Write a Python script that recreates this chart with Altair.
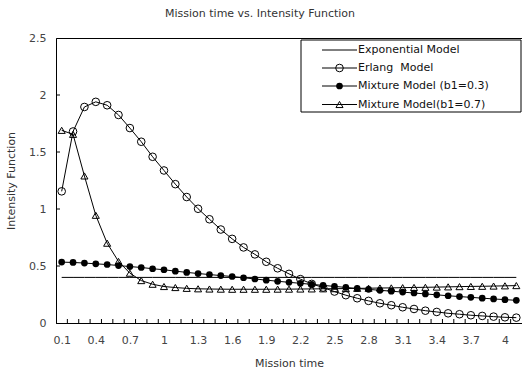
import altair as alt
import pandas as pd

# ---- data ----
mission_time = [0.1, 0.2, 0.3, 0.4, 0.5, 0.6, 0.7, 0.8, 0.9, 1.0,
                1.1, 1.2, 1.3, 1.4, 1.5, 1.6, 1.7, 1.8, 1.9, 2.0,
                2.1, 2.2, 2.3, 2.4, 2.5, 2.6, 2.7, 2.8, 2.9, 3.0,
                3.1, 3.2, 3.3, 3.4, 3.5, 3.6, 3.7, 3.8, 3.9, 4.0, 4.1]

exponential = [0.4, 0.4, 0.4, 0.4, 0.4, 0.4, 0.4, 0.4, 0.4, 0.4,
               0.4, 0.4, 0.4, 0.4, 0.4, 0.4, 0.4, 0.4, 0.4, 0.4,
               0.4, 0.4, 0.4, 0.4, 0.4, 0.4, 0.4, 0.4, 0.4, 0.4,
               0.4, 0.4, 0.4, 0.4, 0.4, 0.4, 0.4, 0.4, 0.4, 0.4, 0.4]

erlang = [1.155, 1.68, 1.895, 1.94, 1.91, 1.825, 1.71, 1.59, 1.458, 1.338,
          1.218, 1.105, 1.002, 0.91, 0.82, 0.738, 0.663, 0.602, 0.537, 0.48,
          0.431, 0.385, 0.343, 0.311, 0.276, 0.244, 0.217, 0.194, 0.173, 0.156,
          0.138, 0.123, 0.108, 0.097, 0.085, 0.077, 0.068, 0.062, 0.056, 0.05, 0.047]

mixture_03 = [0.534, 0.531, 0.526, 0.519, 0.513, 0.504, 0.495, 0.487, 0.476, 0.467,
              0.455, 0.444, 0.434, 0.425, 0.416, 0.408, 0.397, 0.386, 0.376, 0.366,
              0.357, 0.348, 0.339, 0.330, 0.321, 0.312, 0.303, 0.295, 0.287, 0.279,
              0.271, 0.263, 0.255, 0.247, 0.239, 0.232, 0.225, 0.218, 0.211, 0.205, 0.199]

mixture_07 = [1.69, 1.655, 1.29, 0.945, 0.70, 0.54, 0.437, 0.372, 0.34, 0.32,
              0.311, 0.304, 0.300, 0.298, 0.297, 0.296, 0.296, 0.296, 0.296, 0.297,
              0.297, 0.298, 0.299, 0.300, 0.301, 0.302, 0.304, 0.305, 0.307, 0.308,
              0.310, 0.312, 0.313, 0.315, 0.317, 0.319, 0.321, 0.322, 0.324, 0.326, 0.328]

series_names = ["Exponential Model", "\u00a0Erlang\u00a0\u00a0Model",
                "Mixture Model (b1=0.3)", "Mixture Model(b1=0.7)"]

x_tick_labels = [0.1, 0.4, 0.7, 1.0, 1.3, 1.6, 1.9, 2.2, 2.5, 2.8, 3.1, 3.4, 3.7, 4.0]
y_tick_labels = [0, 0.5, 1.0, 1.5, 2.0, 2.5]

FONT = "DejaVu Sans"
W, H = 466, 285

rows = []
for key, vals in [("exp", exponential), ("erl", erlang), ("m3", mixture_03), ("m7", mixture_07)]:
    for xv, yv in zip(mission_time, vals):
        rows.append({"s": key, "x": xv, "y": yv})
df = pd.DataFrame(rows)

xscale = alt.Scale(domain=[0.05, 4.15], nice=False, zero=False)
yscale = alt.Scale(domain=[0, 2.5], nice=False)

xaxis = alt.Axis(values=x_tick_labels, format=".1~f", ticks=False, tickSize=0,
                 labelPadding=11, title="Mission time", titlePadding=12,
                 grid=False, domainColor="black", labelFlush=False)
yaxis = alt.Axis(values=y_tick_labels, format=".1~f", ticks=False, tickSize=0,
                 labelPadding=10, title="Intensity Function", titlePadding=12,
                 grid=False, domainColor="black")

X = alt.X("x:Q", scale=xscale, axis=xaxis)
Y = alt.Y("y:Q", scale=yscale, axis=yaxis)

base = alt.Chart(df)


def series_line(key):
    return base.transform_filter(alt.datum.s == key).mark_line(
        color="black", strokeWidth=1).encode(x=X, y=Y)


def series_points(key, shape, filled, size):
    return base.transform_filter(alt.datum.s == key).mark_point(
        shape=shape, filled=filled, color="black", strokeWidth=1, size=size,
        opacity=1).encode(x=X, y=Y)


MK_ERL = ("circle", False, 58)
MK_M3 = ("circle", True, 45)
MK_M7 = ("triangle-up", False, 50)

layers = [
    series_line("exp"),
    series_line("erl"),
    series_points("erl", *MK_ERL),
    series_line("m3"),
    series_points("m3", *MK_M3),
    series_line("m7"),
    series_points("m7", *MK_M7),
]

# inward tick marks at category boundaries (x) and at label values (y)
bounds = [(a + b) / 2 for a, b in zip(mission_time[:-1], mission_time[1:])]
tick_df = pd.DataFrame({"x": bounds})
layers.append(alt.Chart(tick_df).mark_rule(color="black", strokeWidth=1).encode(
    x=X, y=alt.value(H), y2=alt.value(H - 4)))
ytick_df = pd.DataFrame({"y": y_tick_labels[1:-1]})
layers.append(alt.Chart(ytick_df).mark_rule(color="black", strokeWidth=1).encode(
    y=Y, x=alt.value(0), x2=alt.value(4)))

# legend box
one = pd.DataFrame({"a": [0]})
LX0, LX1, LY0, LY1 = 245, 465, 2, 74
layers.append(alt.Chart(one).mark_rect(fill="white", stroke="black", strokeWidth=1).encode(
    x=alt.value(LX0), x2=alt.value(LX1), y=alt.value(LY0), y2=alt.value(LY1)))

legend_rows = [12, 30, 48, 66.5]
legend_marker = [None, MK_ERL, MK_M3, MK_M7]
for name, ly, mk in zip(series_names, legend_rows, legend_marker):
    layers.append(alt.Chart(one).mark_rule(color="black", strokeWidth=1).encode(
        x=alt.value(266), x2=alt.value(301), y=alt.value(ly)))
    if mk is not None:
        layers.append(alt.Chart(one).mark_point(
            shape=mk[0], filled=mk[1], color="black", strokeWidth=1, size=mk[2], opacity=1).encode(
            x=alt.value(283.5), y=alt.value(ly)))
    layers.append(alt.Chart(one).mark_text(
        align="left", baseline="middle", font=FONT, fontSize=11, color="#111").encode(
        x=alt.value(302), y=alt.value(ly), text=alt.value(name)))

chart = alt.layer(*layers).properties(
    width=W, height=H,
    title=alt.TitleParams("Mission time vs. Intensity Function", font=FONT, fontSize=11,
                          fontWeight="normal", color="#333", anchor="middle",
                          offset=13, dx=-29),
    autosize=alt.AutoSizeParams(type="none"),
    padding={"left": 56, "top": 38, "right": 0, "bottom": 48},
).configure_view(
    stroke="black", strokeWidth=1
).configure_axis(
    labelFont=FONT, titleFont=FONT, labelFontSize=11, titleFontSize=11,
    labelColor="#444", titleColor="#333", titleFontWeight="normal"
)

chart.save("out.html", embed_options={"renderer": "svg", "actions": False})
